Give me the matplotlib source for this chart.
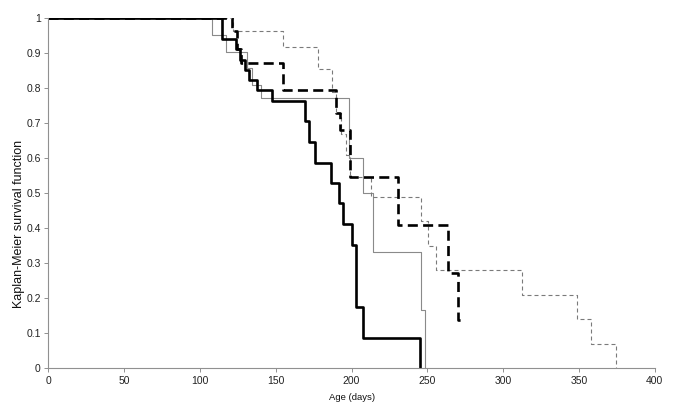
import numpy as np
import matplotlib.pyplot as plt

plt.rcParams["font.family"] = ["Liberation Sans", "DejaVu Sans"]

# Kaplan-Meier step curves (day of event, survival after event)
black_days = [0, 114.5, 123.5, 126.5, 129.5, 132.5, 137.5, 147.5, 169.5, 172, 176, 186.5, 191.5, 194, 200, 203, 207.5, 245]
black_surv = [1, 0.941, 0.912, 0.882, 0.853, 0.824, 0.794, 0.764, 0.706, 0.647, 0.588, 0.529, 0.471, 0.412,
              0.353, 0.176, 0.088, 0]

gray_days = [0, 108, 117, 131, 134, 140, 198, 207.5, 214, 246, 248.5]
gray_surv = [1, 0.952, 0.905, 0.857, 0.81, 0.772, 0.6, 0.5, 0.333, 0.167, 0]

dash_days = [0, 121, 124.5, 127, 155, 190, 192.5, 199, 230.5, 263.5, 270]
dash_surv = [1, 0.965, 0.913, 0.873, 0.795, 0.73, 0.68, 0.547, 0.41, 0.273, 0.137]
dash_end = 272

gdash_days = [0, 122, 155, 178, 187, 190, 193, 196, 199, 213, 245.5, 250.5, 256, 312.5, 349, 358, 374.5]
gdash_surv = [1, 0.965, 0.917, 0.855, 0.79, 0.73, 0.67, 0.61, 0.547, 0.49, 0.42, 0.35, 0.28, 0.21, 0.14,
              0.07, 0]

x_ticks = [0, 50, 100, 150, 200, 250, 300, 350, 400]
y_ticks = [0, 0.1, 0.2, 0.3, 0.4, 0.5, 0.6, 0.7, 0.8, 0.9, 1]
y_tick_labels = ["0", "0.1", "0.2", "0.3", "0.4", "0.5", "0.6", "0.7", "0.8", "0.9", "1"]


def km_step(ax, days, surv, end=None, **kw):
    days = list(days)
    surv = list(surv)
    if end is not None:
        days.append(end)
        surv.append(surv[-1])
    ax.step(days, surv, where="post", **kw)


fig = plt.figure(figsize=(6.85, 4.18), dpi=100)
ax = fig.add_axes([0.0708, 0.1189, 0.885, 0.8373])

km_step(ax, gray_days, gray_surv, color="#8a8a8a", lw=0.8)
km_step(ax, gdash_days, gdash_surv, color="#7a7a7a", lw=0.8, dashes=(3.6, 2.7))
km_step(ax, dash_days, dash_surv, end=dash_end, color="black", lw=1.9, dashes=(3.8, 2.0))
km_step(ax, black_days, black_surv, color="black", lw=1.9)

ax.set_xlim(0, 400)
ax.set_ylim(0, 1)
ax.set_xticks(x_ticks)
ax.set_xticklabels([str(v) for v in x_ticks])
ax.set_yticks(y_ticks)
ax.set_yticklabels(y_tick_labels)

for side in ["top", "right"]:
    ax.spines[side].set_visible(False)
for side in ["left", "bottom"]:
    ax.spines[side].set_color("#909090")
    ax.spines[side].set_linewidth(0.8)

ax.tick_params(axis="both", direction="out", length=3, width=0.7, color="#909090",
               labelsize=7.5, labelcolor="#222222", pad=2.5)

ax.set_xlabel("Age (days)", fontsize=6.8, color="#111111", labelpad=5)
fig.text(19 / 685, 1 - 224 / 418, "Kaplan-Meier survival function", rotation=90,
         fontsize=9, color="#111111", ha="center", va="center")

fig.savefig("out.png", dpi=100)
